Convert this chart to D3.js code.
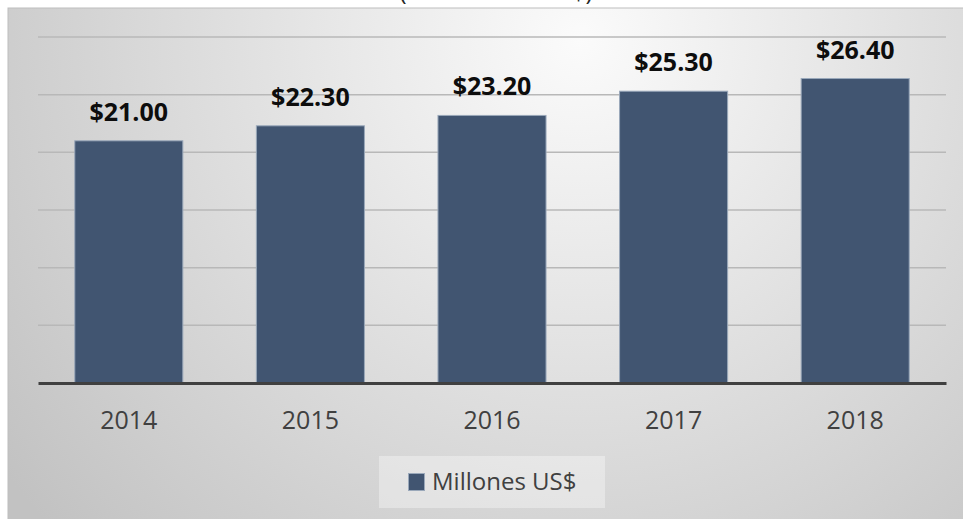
<!DOCTYPE html>
<html>
<head>
<meta charset="utf-8">
<script src="https://cdn.jsdelivr.net/npm/d3@7"></script>
<style>
  body { margin: 0; background: #ffffff; }
  svg { display: block; }
</style>
</head>
<body>
<div id="chart"></div>
<script>
// chart data
var years = ["2014", "2015", "2016", "2017", "2018"];
var valores = [21.0, 22.3, 23.2, 25.3, 26.4];
var yTicks = [0, 5, 10, 15, 20, 25, 30];
var serieNombre = "Millones US$";
var titulo = "(Millones de US$)";

var width = 963,
    height = 519,
    plot = { left: 38, right: 946, top: 37, bottom: 383 };

var svg = d3.select("#chart")
    .append("svg")
    .attr("width", width)
    .attr("height", height);

// background gradient of the chart panel
var defs = svg.append("defs");
var grad = defs.append("radialGradient")
    .attr("id", "bg")
    .attr("gradientUnits", "userSpaceOnUse")
    .attr("cx", 580).attr("cy", 40).attr("r", 720);
grad.append("stop").attr("offset", "0%").attr("stop-color", "#fbfbfb");
grad.append("stop").attr("offset", "100%").attr("stop-color", "#c2c2c2");

// title, mostly cut off above the panel (as in the source image)
svg.append("text")
    .attr("x", 496)
    .attr("y", 0)
    .attr("text-anchor", "middle")
    .style("font", "24px 'Open Sans'")
    .style("fill", "#262626")
    .text(titulo);

svg.append("rect")
    .attr("x", 8).attr("y", 8)
    .attr("width", width).attr("height", height)
    .attr("fill", "url(#bg)")
    .attr("stroke", "#bdbdbd")
    .attr("stroke-width", 1);

var x = d3.scaleBand()
    .domain(years)
    .range([plot.left, plot.right])
    .paddingInner(0.405)
    .paddingOuter(0.2025);

var y = d3.scaleLinear()
    .domain([0, 30])
    .range([plot.bottom, plot.top]);

// gridlines
svg.append("g")
    .selectAll("line")
    .data(yTicks.slice(1))
    .join("line")
    .attr("x1", plot.left)
    .attr("x2", plot.right)
    .attr("y1", d => y(d))
    .attr("y2", d => y(d))
    .attr("stroke", "#b8b8b8")
    .attr("stroke-width", 1.5);

// bars
svg.append("g")
    .selectAll("rect")
    .data(valores)
    .join("rect")
    .attr("x", (d, i) => x(years[i]))
    .attr("y", d => y(d))
    .attr("width", x.bandwidth())
    .attr("height", d => y(0) - y(d))
    .attr("fill", "#415571")
    .attr("stroke", "#9aa8ba")
    .attr("stroke-width", 1);

// data labels
svg.append("g")
    .selectAll("text")
    .data(valores)
    .join("text")
    .attr("x", (d, i) => x(years[i]) + x.bandwidth() / 2)
    .attr("y", d => y(d) - 20)
    .attr("text-anchor", "middle")
    .style("font", "bold 25px 'Open Sans'")
    .style("fill", "#0d0d0d")
    .text(d => "$" + d3.format(".2f")(d));

// x axis
var xAxis = d3.axisBottom(x).tickSize(0).tickPadding(28);
var gx = svg.append("g")
    .attr("transform", `translate(0,${plot.bottom})`)
    .call(xAxis);
gx.select(".domain")
    .attr("stroke", "#404040")
    .attr("stroke-width", 3);
gx.selectAll("text")
    .style("font", "25px 'Open Sans'")
    .style("fill", "#404040");

// legend
var legend = svg.append("g");
legend.append("rect")
    .attr("x", 379).attr("y", 456)
    .attr("width", 226).attr("height", 52)
    .attr("fill", "#ffffff")
    .attr("fill-opacity", 0.35);
legend.append("rect")
    .attr("x", 408.5).attr("y", 473.5)
    .attr("width", 16).attr("height", 17)
    .attr("fill", "#415571")
    .attr("stroke", "#9aa8ba");
legend.append("text")
    .attr("x", 432)
    .attr("y", 490)
    .style("font", "24px 'Open Sans'")
    .style("fill", "#404040")
    .text(serieNombre);
</script>
</body>
</html>
